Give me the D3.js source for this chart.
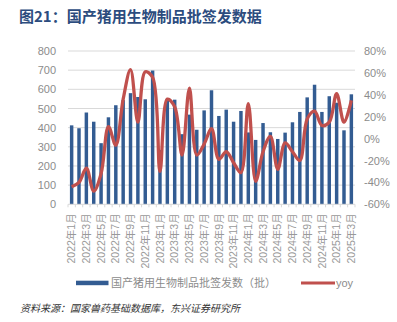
<!DOCTYPE html>
<html><head><meta charset="utf-8">
<script src="https://cdn.jsdelivr.net/npm/d3@7"></script>
<style>
html,body{margin:0;padding:0;background:#fff;}
svg{display:block;}
text{font-family:"Liberation Sans","Noto Sans CJK SC",sans-serif;}
</style></head>
<body>
<script>
const months = ["2022年1月","2022年2月","2022年3月","2022年4月","2022年5月","2022年6月","2022年7月","2022年8月","2022年9月","2022年10月","2022年11月","2022年12月",
"2023年1月","2023年2月","2023年3月","2023年4月","2023年5月","2023年6月","2023年7月","2023年8月","2023年9月","2023年10月","2023年11月","2023年12月",
"2024年1月","2024年2月","2024年3月","2024年4月","2024年5月","2024年6月","2024年7月","2024年8月","2024年9月","2024年10月","2024年11月","2024年12月",
"2025年1月","2025年2月","2025年3月"];
const batches = [412,397,479,431,319,454,517,544,580,560,548,698,283,550,546,366,468,389,490,595,461,494,431,487,375,336,424,376,341,374,428,482,558,624,482,564,530,386,574];
const yoy = [-44,-40,-27,-48,-32,11,-6,36,63,15,61,56,-30,36,29,-15,46,-15,-5,9,-19,-12,-22,-31,32,-39,-12,2,-28,-4,-12,-20,18,25,12,15,41,15,35];
const leftTicks = [0,100,200,300,400,500,600,700,800];
const rightTicks = [-60,-40,-20,0,20,40,60,80];
const title = "图21：国产猪用生物制品批签发数据";
const legendBar = "国产猪用生物制品批签发数（批）";
const legendLine = "yoy";
const source = "资料来源：国家兽药基础数据库，东兴证券研究所";

const W = 397, H = 322;
const svg = d3.select("body").append("svg").attr("width", W).attr("height", H);
const pL = 68, pR = 355, pT = 51, pB = 204.3;

const x = d3.scaleBand().domain(months).range([pL, pR]).paddingInner(0.53).paddingOuter(0.26);
const yL = d3.scaleLinear().domain([0, 800]).range([pB, pT]);
const yR = d3.scaleLinear().domain([-60, 80]).range([pB, pT]);

svg.append("text").attr("x", 19).attr("y", 22).attr("fill", "#2C4C7E")
  .attr("font-size", 15).attr("font-weight", "bold")
  .style("font-family", "'Noto Sans CJK SC','Liberation Sans',sans-serif").text(title);

// gridlines
svg.append("g").selectAll("line").data(leftTicks.slice(1)).join("line")
  .attr("x1", pL).attr("x2", pR).attr("y1", d => yL(d)).attr("y2", d => yL(d))
  .attr("stroke", "#D9D9D9").attr("stroke-width", 1);

// left axis
const gl = svg.append("g").attr("transform", `translate(${pL},0)`)
  .call(d3.axisLeft(yL).tickValues(leftTicks).tickSize(0).tickPadding(12));
gl.select(".domain").remove();
gl.selectAll("text").attr("fill", "#8C8C8C").attr("font-size", 11).style("font-family", "'Liberation Sans',sans-serif");

// right axis
const gr = svg.append("g").attr("transform", `translate(${pR},0)`)
  .call(d3.axisRight(yR).tickValues(rightTicks).tickSize(0).tickPadding(9).tickFormat(d => d + "%"));
gr.select(".domain").remove();
gr.selectAll("text").attr("fill", "#8C8C8C").attr("font-size", 11).style("font-family", "'Liberation Sans',sans-serif");

// bars
svg.append("g").selectAll("rect").data(batches).join("rect")
  .attr("x", (d, i) => x(months[i])).attr("width", x.bandwidth())
  .attr("y", d => yL(d)).attr("height", d => pB - yL(d))
  .attr("fill", "#335C92");

// x axis
const step = (pR - pL) / months.length;
const gx = svg.append("g").attr("transform", `translate(0,${pB})`);
gx.append("line").attr("x1", pL).attr("x2", pR).attr("stroke", "#D9D9D9");
gx.selectAll("line.t").data(d3.range(months.length + 1)).join("line").attr("class", "t")
  .attr("x1", i => pL + i * step).attr("x2", i => pL + i * step).attr("y1", 0).attr("y2", 3)
  .attr("stroke", "#D9D9D9");
gx.selectAll("text").data(months.filter((m, i) => i % 2 === 0)).join("text")
  .attr("transform", d => `translate(${x(d) + x.bandwidth() / 2},${9}) rotate(-90)`)
  .attr("text-anchor", "end").attr("dy", "0.35em")
  .attr("fill", "#999999").attr("font-size", 10.5)
  .style("font-family", "'Liberation Sans','Noto Sans CJK SC',sans-serif")
  .text(d => d);

// yoy line
const line = d3.line().x((d, i) => x(months[i]) + x.bandwidth() / 2).y(d => yR(d)).curve(d3.curveCatmullRom.alpha(0.5));
svg.append("path").datum(yoy).attr("d", line).attr("fill", "none")
  .attr("stroke", "#C0504D").attr("stroke-width", 3.3).attr("stroke-linejoin", "round");

// legend
const lg = svg.append("g");
lg.append("rect").attr("x", 76).attr("y", 280.7).attr("width", 32.5).attr("height", 4.5).attr("fill", "#335C92");
lg.append("text").attr("x", 111).attr("y", 287.3).attr("fill", "#8C8C8C").attr("font-size", 11)
  .style("font-family", "'Noto Sans CJK SC',sans-serif").text(legendBar);
lg.append("line").attr("x1", 301).attr("x2", 335).attr("y1", 283).attr("y2", 283)
  .attr("stroke", "#C0504D").attr("stroke-width", 3);
lg.append("text").attr("x", 336).attr("y", 287.3).attr("fill", "#8C8C8C").attr("font-size", 11).text(legendLine);

// source
svg.append("text").attr("x", 20).attr("y", 312).attr("fill", "#333").attr("font-size", 10)
  .attr("font-style", "italic")
  .style("font-family", "'Noto Sans CJK SC',sans-serif").text(source);
</script>
</body></html>
